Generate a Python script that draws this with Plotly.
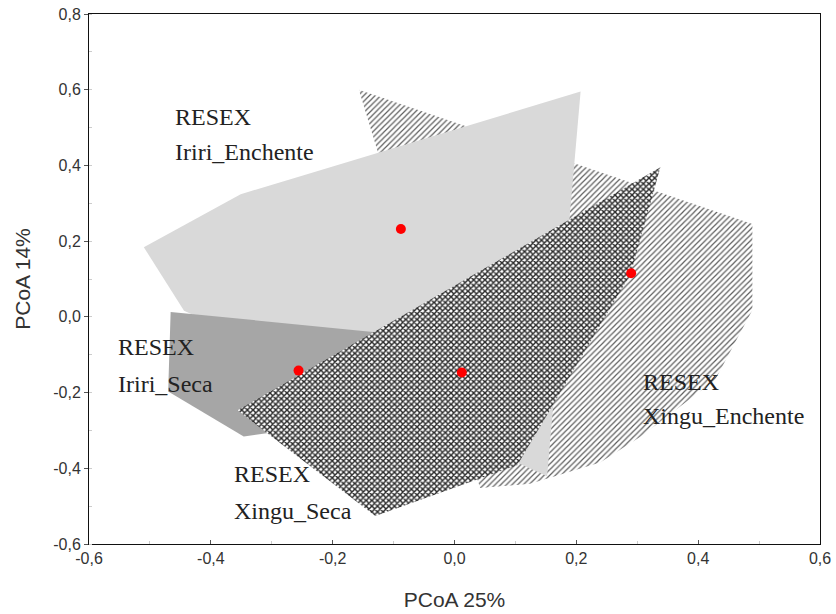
import plotly.graph_objects as go

# Convex hulls of the sample scores for each site/season group (PCoA axes 1 and 2)
groups = ["Xingu_Enchente", "Iriri_Enchente", "Iriri_Seca", "Xingu_Seca"]

hull_x_xingu_enchente = [-0.157, 0.489, 0.489, 0.428, 0.305, 0.239, 0.124, 0.042]
hull_y_xingu_enchente = [0.600, 0.245, 0.018, -0.166, -0.317, -0.385, -0.441, -0.452]

hull_x_iriri_enchente = [-0.510, -0.351, 0.207, 0.152, -0.444]
hull_y_iriri_enchente = [0.184, 0.324, 0.595, -0.421, 0.016]

hull_x_iriri_seca = [-0.466, -0.088, -0.252, -0.346, -0.470]
hull_y_iriri_seca = [0.013, -0.047, -0.295, -0.316, -0.197]

hull_x_xingu_seca = [-0.356, 0.338, 0.289, 0.103, -0.130]
hull_y_xingu_seca = [-0.247, 0.395, 0.113, -0.392, -0.526]

# Group centroids
centroid_x = [0.290, -0.088, -0.256, 0.012]
centroid_y = [0.115, 0.232, -0.142, -0.147]

x_ticks = [-0.6, -0.4, -0.2, 0.0, 0.2, 0.4, 0.6]
y_ticks = [-0.6, -0.4, -0.2, 0.0, 0.2, 0.4, 0.6, 0.8]


def comma(v):
    return f"{v:.1f}".replace(".", ",")


fig = go.Figure()

hatch = dict(shape="/", size=4, solidity=0.3, fgcolor="#5e5e5e", bgcolor="white", fillmode="replace")
checker = dict(shape="x", size=4, solidity=0.6, fgcolor="#2a2a2a", bgcolor="white", fillmode="replace")

fig.add_trace(go.Scatter(x=hull_x_xingu_enchente, y=hull_y_xingu_enchente, fill="toself",
                         mode="lines", line=dict(width=0), fillcolor="white",
                         fillpattern=hatch, hoverinfo="skip"))
fig.add_trace(go.Scatter(x=hull_x_iriri_enchente, y=hull_y_iriri_enchente, fill="toself",
                         mode="lines", line=dict(width=0), fillcolor="#d9d9d9", hoverinfo="skip"))
fig.add_trace(go.Scatter(x=hull_x_iriri_seca, y=hull_y_iriri_seca, fill="toself",
                         mode="lines", line=dict(width=0), fillcolor="#a6a6a6", hoverinfo="skip"))
fig.add_trace(go.Scatter(x=hull_x_xingu_seca, y=hull_y_xingu_seca, fill="toself",
                         mode="lines", line=dict(width=0), fillcolor="white",
                         fillpattern=checker, hoverinfo="skip"))
fig.add_trace(go.Scatter(x=centroid_x, y=centroid_y, mode="markers",
                         marker=dict(color="#ff0000", size=10, line=dict(width=0)),
                         text=groups, hoverinfo="text"))

# Group labels, two lines each
label_pos = {
    "Iriri_Enchente": (-0.462, 0.527, 0.435),
    "Iriri_Seca": (-0.555, -0.080, -0.178),
    "Xingu_Seca": (-0.366, -0.415, -0.512),
    "Xingu_Enchente": (0.306, -0.172, -0.262),
}
label_font = dict(family="Liberation Serif", size=24, color="#222222")
for name, (lx, ly1, ly2) in label_pos.items():
    fig.add_annotation(x=lx, y=ly1, text="RESEX", showarrow=False,
                       xanchor="left", yanchor="middle", font=label_font)
    fig.add_annotation(x=lx, y=ly2, text=name, showarrow=False,
                       xanchor="left", yanchor="middle", font=label_font)

axis_font = dict(family="Liberation Sans, Arial", size=16, color="#333333")
title_font = dict(family="Liberation Sans, Arial", size=21, color="#333333")

fig.update_xaxes(range=[-0.6, 0.6], tickvals=x_ticks, ticktext=[comma(v) for v in x_ticks],
                 showgrid=False, zeroline=False, showline=True, linecolor="#111111",
                 linewidth=1, mirror=True, ticks="inside", ticklen=4, tickcolor="#555555",
                 minor=dict(dtick=0.1, ticks="inside", ticklen=3, tickcolor="#cccccc"),
                 tickfont=axis_font, automargin=False,
                 title=dict(text="PCoA 25%", font=title_font, standoff=26))
fig.update_yaxes(range=[-0.6, 0.8], tickvals=y_ticks, ticktext=[comma(v) for v in y_ticks],
                 showgrid=False, zeroline=False, showline=True, linecolor="#111111",
                 linewidth=1, mirror=True, ticks="outside", ticklen=4, tickcolor="#555555",
                 minor=dict(dtick=0.1, ticks="inside", ticklen=3, tickcolor="#cccccc"),
                 tickfont=axis_font, automargin=False,
                 title=dict(text="PCoA 14%", font=title_font, standoff=16))

fig.update_layout(width=836, height=614, showlegend=False,
                  margin=dict(l=89, r=16, t=14, b=70),
                  plot_bgcolor="white", paper_bgcolor="white")

fig.write_html("out.html")
